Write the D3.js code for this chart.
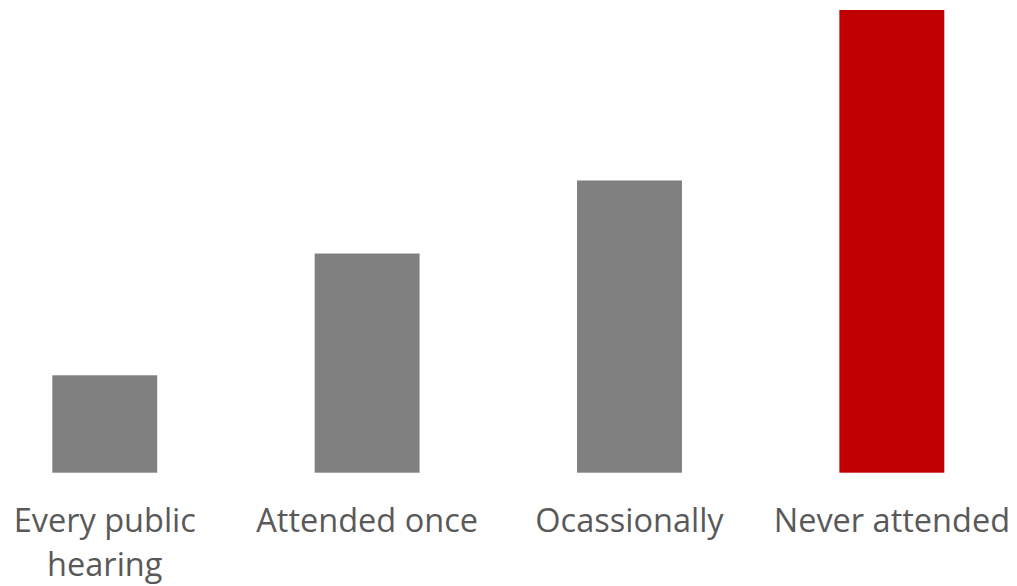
<!DOCTYPE html>
<html>
<head>
<meta charset="utf-8">
<script src="https://cdn.jsdelivr.net/npm/d3@7"></script>
<style>
  html, body { margin: 0; padding: 0; background: #fff; }
</style>
</head>
<body>
<div id="chart"></div>
<script>
// Kategorien und Werte (Prozent)
var categories = ["Every public hearing", "Attended once", "Ocassionally", "Never attended"];
var values = [8, 18, 24, 38];
var barColors = ["#808080", "#808080", "#808080", "#C00000"];

var width = 1017, height = 586;

var svg = d3.select("#chart")
  .append("svg")
  .attr("width", width)
  .attr("height", height);

// x-Skala: Bänder
var x = d3.scaleBand()
  .domain(categories)
  .range([52.3, 944.3])
  .paddingInner(0.6)
  .paddingOuter(0);

// y-Skala
var y = d3.scaleLinear()
  .domain([0, 38])
  .range([472.7, 10]);

// Balken zeichnen
svg.selectAll("rect.bar")
  .data(values)
  .enter()
  .append("rect")
  .attr("class", "bar")
  .attr("x", function(d, i) { return x(categories[i]); })
  .attr("y", function(d) { return y(d); })
  .attr("width", x.bandwidth())
  .attr("height", function(d) { return y(0) - y(d); })
  .style("fill", function(d, i) { return barColors[i]; });

// Achse ohne Linien, nur Beschriftung
var axis = svg.append("g")
  .attr("transform", "translate(0," + y(0) + ")")
  .call(d3.axisBottom(x).tickSize(0).tickPadding(0));

axis.select(".domain").remove();

axis.selectAll("text")
  .style("font-family", "'Open Sans', sans-serif")
  .style("font-size", "32.5px")
  .style("fill", "#595959")
  .attr("dy", null)
  .attr("y", 59)
  .each(function() {
    // Zeilenumbruch wie im Original
    var t = d3.select(this);
    var words = t.text().split(" ");
    var maxW = 245;
    var lines = [], line = [];
    t.text(null);
    var tmp = t.append("tspan");
    words.forEach(function(w) {
      line.push(w);
      tmp.text(line.join(" "));
      if (tmp.node().getComputedTextLength() > maxW && line.length > 1) {
        line.pop();
        lines.push(line.join(" "));
        line = [w];
      }
    });
    lines.push(line.join(" "));
    tmp.remove();
    lines.forEach(function(l, k) {
      t.append("tspan")
        .attr("x", 0)
        .attr("dy", k === 0 ? 0 : 44)
        .text(l);
    });
  });
</script>
</body>
</html>
